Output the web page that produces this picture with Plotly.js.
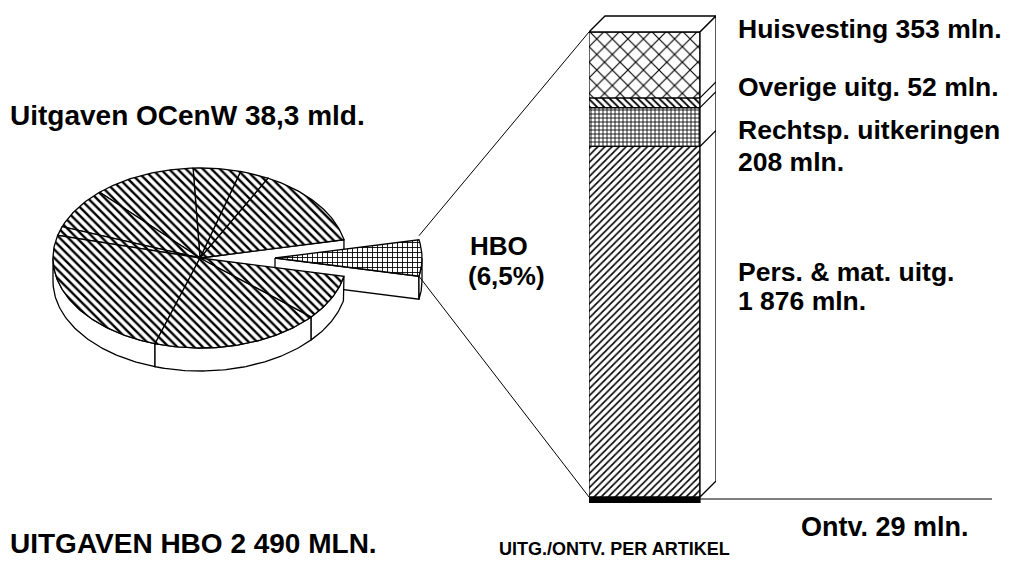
<!DOCTYPE html>
<html><head><meta charset="utf-8">
<script src="https://cdn.plot.ly/plotly-3.0.1.min.js"></script>
<style>html,body{margin:0;padding:0;background:#fff}</style>
</head><body>
<div id="chart" style="width:1009px;height:565px"></div>
<script>
// ---------------- data ----------------
const pieTitle = 'Uitgaven OCenW 38,3 mld.';
// shares (%) of OCenW expenditure; first slice = HBO, others counter-clockwise
const pieShares = [6.5, 14.1, 3.2, 5.2, 11.2, 7.4, 1.6, 24.1, 18.6, 8.1];
const hboLabelLines = ['HBO', '(6,5%)'];
const barCategories = ['Pers. & mat. uitg.', 'Rechtsp. uitkeringen', 'Overige uitg.', 'Huisvesting', 'Ontv.'];
const barValues = [1876, 208, 52, 353, -29];
const barLabelLines = [
  ['Pers. & mat. uitg.', '1 876 mln.'],
  ['Rechtsp. uitkeringen', '208 mln.'],
  ['Overige uitg. 52 mln.'],
  ['Huisvesting 353 mln.'],
  ['Ontv. 29 mln.']
];
const bottomTitle = 'UITGAVEN HBO 2 490 MLN.';
const barAxisTitle = 'UITG./ONTV. PER ARTIKEL';

// ---------------- layout constants ----------------
const W = 1009, H = 565;
const P = {cx: 200, cy: 258, rx: 147, ry: 90, depth: 23, explode: 75};
const B = {left: 589, right: 700, dX: 16, dY: 16, zeroY: 497, topY: 32};
const FONT = 'Liberation Sans, Arial, Helvetica, sans-serif';

const rad = d => d * Math.PI / 180;
function pt(a, dx, dz) { return [P.cx + (dx||0) + P.rx * Math.cos(rad(a)), P.cy + (dz||0) - P.ry * Math.sin(rad(a))]; }
function arc(a0, a1, dx, dz) {
  const out = []; const n = Math.max(2, Math.ceil(Math.abs(a1 - a0)));
  for (let i = 0; i <= n; i++) out.push(pt(a0 + (a1 - a0) * i / n, dx, dz));
  return out;
}
function poly(points, pattern, extra) {
  const xs = points.map(p => p[0]).concat([points[0][0]]);
  const ys = points.map(p => p[1]).concat([points[0][1]]);
  const t = {type: 'scatter', mode: 'lines', x: xs, y: ys, xaxis: 'x', yaxis: 'y',
    line: {color: '#000', width: 1.3}, fill: 'toself', fillcolor: '#fff', hoverinfo: 'skip', showlegend: false};
  if (pattern) t.fillpattern = Object.assign({fgcolor: '#000', bgcolor: '#fff', fillmode: 'replace'}, pattern);
  return Object.assign(t, extra || {});
}

const traces = [];
const h = pieShares[0] * 3.6 / 2;   // half angle of HBO slice
const ex = P.explode;
// main pie: radial face at +h (visible in the gap)
traces.push(poly([[P.cx, P.cy], pt(h), pt(h, 0, P.depth), [P.cx, P.cy + P.depth]]));
// HBO slice faces
traces.push(poly([[P.cx + ex, P.cy], pt(-h, ex), pt(-h, ex, P.depth), [P.cx + ex, P.cy + P.depth]]));
traces.push(poly(arc(-h, 0, ex).concat(arc(0, -h, ex, P.depth))));
// main slices angles
const slices = [];
let a = h;
for (let i = 1; i < pieShares.length; i++) { const a1 = a + pieShares[i] * 3.6; slices.push([a, a1]); a = a1; }
// walls of main slices (front half)
slices.forEach(([a0, a1]) => {
  const lo = Math.max(a0, 180), hi = Math.min(a1, 360);
  if (hi > lo) traces.push(poly(arc(lo, hi).concat(arc(hi, lo, 0, P.depth))));
});
// top faces of main slices
slices.forEach(([a0, a1]) => {
  traces.push(poly([[P.cx, P.cy]].concat(arc(a0, a1)), {shape: '\\', size: 6, solidity: 0.4}));
});
// HBO top face
traces.push(poly([[P.cx + ex, P.cy]].concat(arc(-h, h, ex)), {shape: '+', size: 5, solidity: 0.32}));

// ---------------- bar (own axes) ----------------
const total = barValues.filter(v => v > 0).reduce((s, v) => s + v, 0);
const k = (B.zeroY - B.topY) / total;          // px per mln
const dxu = B.dX / (B.right - B.left);
const dyu = B.dY / k;
const patterns = [
  {shape: '/', size: 5, solidity: 0.32},
  {shape: '+', size: 4, solidity: 0.38},
  {shape: '\\', size: 5, solidity: 0.35},
  {shape: 'x', size: 11, solidity: 0.2},
  null
];
barCategories.forEach((c, i) => {
  const mk = {color: patterns[i] ? '#fff' : '#000', line: {color: '#000', width: 1.2}};
  if (patterns[i]) mk.pattern = Object.assign({fgcolor: '#000', bgcolor: '#fff', fillmode: 'replace'}, patterns[i]);
  traces.push({type: 'bar', x: [0], y: [barValues[i]], width: [1], name: c, marker: mk,
    xaxis: 'x2', yaxis: 'y2', hoverinfo: 'skip', showlegend: false});
});
// 3D box: top face and right face
const T = total;
traces.push({type: 'scatter', mode: 'lines', xaxis: 'x2', yaxis: 'y2', hoverinfo: 'skip', showlegend: false,
  x: [-0.5, -0.5 + dxu, 0.5 + dxu, 0.5, -0.5], y: [T, T + dyu, T + dyu, T, T],
  fill: 'toself', fillcolor: '#fff', line: {color: '#000', width: 1.3}});
traces.push({type: 'scatter', mode: 'lines', xaxis: 'x2', yaxis: 'y2', hoverinfo: 'skip', showlegend: false,
  x: [0.5, 0.5 + dxu, 0.5 + dxu, 0.5, 0.5], y: [0, dyu, T + dyu, T, 0],
  fill: 'toself', fillcolor: '#fff', line: {color: '#000', width: 1.3}});
// segment boundaries on the right face
const bx = [], by = [];
let cum = 0;
barValues.forEach(v => { if (v > 0) { cum += v; if (cum < T) { bx.push(0.5, 0.5 + dxu, null); by.push(cum, cum + dyu, null); } } });
traces.push({type: 'scatter', mode: 'lines', xaxis: 'x2', yaxis: 'y2', hoverinfo: 'skip', showlegend: false,
  x: bx, y: by, line: {color: '#000', width: 1.2}});

// connection lines from HBO slice to bar
const up = pt(h, ex), dn = pt(-h, ex);
traces.push({type: 'scatter', mode: 'lines', xaxis: 'x', yaxis: 'y', hoverinfo: 'skip', showlegend: false,
  x: [up[0], B.left, null, dn[0], B.left], y: [up[1] - 4, B.topY, null, dn[1], B.zeroY],
  line: {color: '#000', width: 1}});

// ---------------- annotations ----------------
function ann(text, x, y, size, extra) {
  return Object.assign({text, x, y, xref: 'x', yref: 'y', xanchor: 'left', yanchor: 'middle', showarrow: false,
    font: {family: FONT, size, color: '#000', weight: 'bold'}}, extra || {});
}
const anns = [
  ann(pieTitle, 8, 115, 28),
  ann(hboLabelLines[0], 468, 246, 26),
  ann(hboLabelLines[1], 466, 276, 26),
  ann(barLabelLines[3][0], 736, 29, 26.5),
  ann(barLabelLines[2][0], 736, 87, 26.5),
  ann(barLabelLines[1][0], 736, 130, 26.5),
  ann(barLabelLines[1][1], 736, 162, 26.5),
  ann(barLabelLines[0][0], 736, 272, 26.5),
  ann(barLabelLines[0][1], 736, 301, 26.5),
  ann(barLabelLines[4][0], 799, 527, 27),
  ann(bottomTitle, 8, 543, 28),
  ann(barAxisTitle, 497, 549, 18)
];

const hid = {visible: false, showgrid: false, zeroline: false, fixedrange: true};
const layout = {
  width: W, height: H, margin: {l: 0, r: 0, t: 0, b: 0, pad: 0},
  paper_bgcolor: '#fff', plot_bgcolor: 'rgba(0,0,0,0)',
  showlegend: false, hovermode: false, barmode: 'relative', bargap: 0,
  xaxis: Object.assign({range: [0, W], domain: [0, 1]}, hid),
  yaxis: Object.assign({range: [H, 0], domain: [0, 1]}, hid),
  xaxis2: Object.assign({range: [-0.5, 0.5 + dxu], domain: [B.left / W, (B.right + B.dX) / W], anchor: 'y2'}, hid),
  yaxis2: Object.assign({range: [-(H - B.zeroY) / k, B.zeroY / k], domain: [0, 1], anchor: 'x2'}, hid),
  shapes: [{type: 'line', xref: 'x', yref: 'y', x0: B.right, x1: 992, y0: B.zeroY + 2, y1: B.zeroY + 2,
    line: {color: '#000', width: 1.2}}],
  annotations: anns
};
Plotly.newPlot('chart', traces, layout, {staticPlot: true, displayModeBar: false});
</script>
</body></html>
